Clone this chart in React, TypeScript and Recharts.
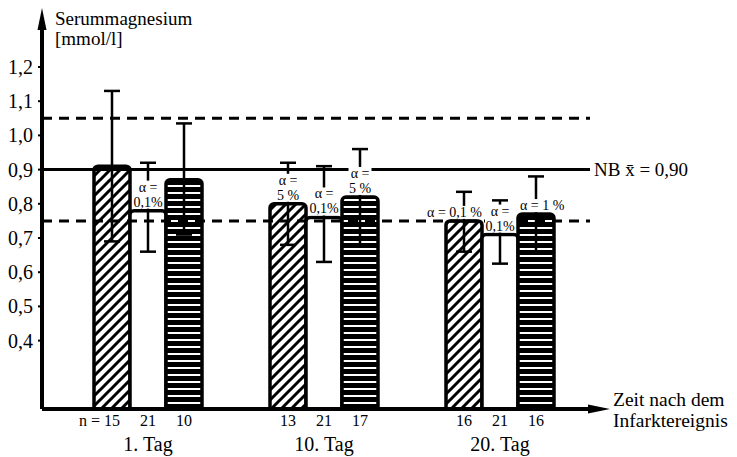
import React from 'react';
import { BarChart, Bar, XAxis, YAxis, ReferenceLine, ErrorBar, LabelList } from 'recharts';

// ---- data ----
const days = ['1. Tag', '10. Tag', '20. Tag'];
const meanHatched = [0.91, 0.8, 0.75];
const meanOpen = [0.78, 0.76, 0.71];
const meanStriped = [0.87, 0.82, 0.77];
// [lower error, upper error]
const errHatched = [[0.22, 0.22], [0.12, 0.12], [0.09, 0.085]];
const errOpen = [[0.12, 0.14], [0.13, 0.15], [0.085, 0.1]];
const errStriped = [[0.16, 0.165], [0.14, 0.14], [0.11, 0.11]];
const nHatched = [15, 13, 16];
const nOpen = [21, 21, 21];
const nStriped = [10, 17, 16];
const alphaHatched = ['', 'α =\n5 %', 'α = 0,1 %'];
const alphaOpen = ['α =\n0,1%', 'α =\n0,1%', 'α =\n0,1%'];
const alphaStriped = ['', 'α =\n5 %', 'α = 1 %'];
const yTicks = [0.4, 0.5, 0.6, 0.7, 0.8, 0.9, 1.0, 1.1, 1.2];
const normMean = 0.9;
const normLow = 0.75;
const normHigh = 1.05;
const normLabel = 'NB x\u0304 = 0,90';

const data = days.map((d, i) => ({
  day: d,
  h: meanHatched[i],
  o: meanOpen[i],
  s: meanStriped[i],
  eh: errHatched[i],
  eo: errOpen[i],
  es: errStriped[i],
  nh: nHatched[i],
  no: nOpen[i],
  ns: nStriped[i],
  ah: alphaHatched[i],
  ao: alphaOpen[i],
  as: alphaStriped[i],
}));

const FONT = "Liberation Serif, Times New Roman, serif";

const makeAlphaLabel = (single: 'start' | 'middle' | 'end') => (props: any) => {
  const { x, y, width, value } = props;
  if (!value) return null;
  const lines = String(value).split('\n');
  const n = lines.length;
  const lh = 15;
  let anchor: 'start' | 'middle' | 'end' = 'middle';
  let tx = x + width / 2;
  if (n === 1 && single === 'end') { anchor = 'end'; tx = x + width; }
  if (n === 1 && single === 'start') { anchor = 'start'; tx = x + 2; }
  const baseY = y - 4;
  const w = Math.max(...lines.map((l) => l.length * 7)) + 2;
  const rx = anchor === 'middle' ? tx - w / 2 : anchor === 'end' ? tx - w : tx;
  const top = baseY - (n - 1) * lh - 11;
  return (
    <g>
      <rect x={rx} y={top} width={w} height={baseY - top + 2} fill="#fff" />
      {lines.map((l, i) => (
        <text key={i} x={tx} y={baseY - (n - 1 - i) * lh} textAnchor={anchor}
          fontSize={14} fontFamily={FONT} fill="#000">{l}</text>
      ))}
    </g>
  );
};

const makeNLabel = (prefix: boolean) => (props: any) => {
  const { x, y, width, height, value, index } = props;
  const cx = x + width / 2;
  const by = y + height + 17;
  return (
    <g>
      <text x={cx} y={by} textAnchor="middle" fontSize={16} fontFamily={FONT} fill="#000">{value}</text>
      {prefix && index === 0 && (
        <text x={cx - 12} y={by} textAnchor="end" fontSize={16} fontFamily={FONT} fill="#000">n =</text>
      )}
    </g>
  );
};

const DayTick = (props: any) => {
  const { x, y, payload } = props;
  return (
    <text x={x} y={y + 40} textAnchor="middle" fontSize={20} fontFamily={FONT} fill="#000">
      {payload.value}
    </text>
  );
};

export default function App() {
  return (
    <div style={{ position: 'absolute', left: 0, top: 0, width: 737, height: 457, background: '#fff' }}>
      <svg width={0} height={0} style={{ position: 'absolute' }}>
        <defs>
          <pattern id="hatch" patternUnits="userSpaceOnUse" width={10} height={10}>
            <rect width={10} height={10} fill="#fff" />
            <path d="M-2,2 L2,-2 M0,10 L10,0 M8,12 L12,8" stroke="#000" strokeWidth={3} />
          </pattern>
          <pattern id="stripes" patternUnits="userSpaceOnUse" width={8} height={7}>
            <rect width={8} height={7} fill="#000" />
            <rect x={0} y={3} width={8} height={2} fill="#fff" />
          </pattern>
          <marker id="arrowHead" markerUnits="userSpaceOnUse" markerWidth={26} markerHeight={12}
            viewBox="0 -6 26 12" refX={2} refY={0} orient="auto-start-reverse">
            <path d="M0,-4.5 L22,0 L0,4.5 Z" fill="#000" />
          </marker>
        </defs>
      </svg>
      <BarChart width={737} height={457} data={data}
        margin={{ top: 28, right: 147, left: 0, bottom: 0 }}
        barCategoryGap={34} barGap={0}>
        <XAxis dataKey="day" height={48} padding={{ left: 18, right: 2 }}
          axisLine={{ stroke: '#000', strokeWidth: 4, markerEnd: 'url(#arrowHead)' } as any}
          tickLine={false} tickSize={0} tick={<DayTick />} interval={0} />
        <YAxis type="number" domain={[0.2, 1.314]} allowDataOverflow width={42}
          ticks={yTicks} interval={0}
          tickFormatter={(v: number) => v.toFixed(1).replace('.', ',')}
          axisLine={{ stroke: '#000', strokeWidth: 4, markerStart: 'url(#arrowHead)' } as any}
          tickLine={{ stroke: '#000', strokeWidth: 2 }} tickSize={4} tickMargin={5}
          tick={{ fill: '#000', fontSize: 20, fontFamily: FONT }} />
        <Bar dataKey="h" fill="url(#hatch)" stroke="#000" strokeWidth={3.5} radius={[4, 4, 0, 0]} isAnimationActive={false}>
          <ErrorBar dataKey="eh" width={8} stroke="#000" strokeWidth={2.5} />
          <LabelList dataKey="nh" content={makeNLabel(true)} />
          <LabelList dataKey="ah" content={makeAlphaLabel('end')} />
        </Bar>
        <Bar dataKey="o" fill="#fff" stroke="#000" strokeWidth={3.5} radius={[4, 4, 0, 0]} isAnimationActive={false}>
          <ErrorBar dataKey="eo" width={8} stroke="#000" strokeWidth={2.5} />
          <LabelList dataKey="no" content={makeNLabel(false)} />
          <LabelList dataKey="ao" content={makeAlphaLabel('middle')} />
        </Bar>
        <Bar dataKey="s" fill="url(#stripes)" stroke="#000" strokeWidth={3.5} radius={[4, 4, 0, 0]} isAnimationActive={false}>
          <ErrorBar dataKey="es" width={8} stroke="#000" strokeWidth={2.5} />
          <LabelList dataKey="ns" content={makeNLabel(false)} />
          <LabelList dataKey="as" content={makeAlphaLabel('start')} />
        </Bar>
        <ReferenceLine y={normHigh} stroke="#000" strokeWidth={3} strokeDasharray="10 7" />
        <ReferenceLine y={normLow} stroke="#000" strokeWidth={3} strokeDasharray="10 7" />
        <ReferenceLine y={normMean} stroke="#000" strokeWidth={3}
          label={{ value: normLabel, position: 'right', offset: 4, fill: '#000', fontSize: 19, fontFamily: FONT }} />
      </BarChart>
      <svg width={737} height={457} style={{ position: 'absolute', left: 0, top: 0, pointerEvents: 'none' }}>
        <text x={55} y={25} fontSize={19} fontFamily={FONT} fill="#000">Serummagnesium</text>
        <text x={55} y={45} fontSize={19} fontFamily={FONT} fill="#000">[mmol/l]</text>
        <text x={613} y={406} fontSize={19.5} fontFamily={FONT} fill="#000">Zeit nach dem</text>
        <text x={613} y={427} fontSize={19.5} fontFamily={FONT} fill="#000">Infarktereignis</text>
      </svg>
    </div>
  );
}
